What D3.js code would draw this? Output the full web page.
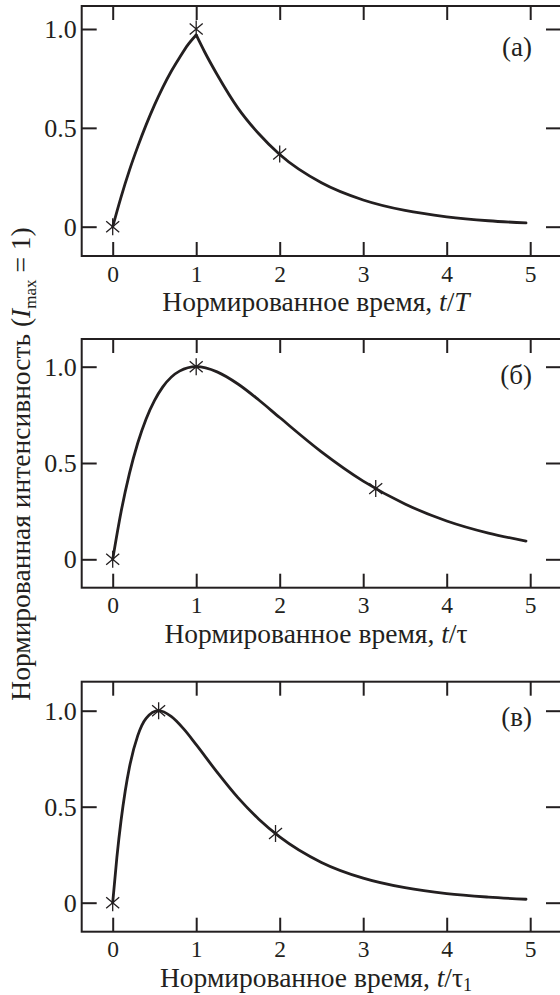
<!DOCTYPE html>
<html>
<head>
<meta charset="utf-8">
<script src="https://cdn.jsdelivr.net/npm/d3@7"></script>
<style>
  body { margin: 0; background: #fff; }
  svg { display: block; }
  text { font-family: "Liberation Serif", "DejaVu Serif", serif; fill: #231f20; }
</style>
</head>
<body>
<svg id="chart" width="560" height="995"></svg>
<script>
// values (normalized time, normalized intensity)
const tA = [0, 0.1, 0.2, 0.3, 0.4, 0.5, 0.6, 0.7, 0.8, 0.9, 1.0, 1.1, 1.25, 1.5, 1.75, 2.0, 2.5, 3.0, 3.5, 4.0, 4.5, 4.95]
const iA = [0, 0.15, 0.285, 0.405, 0.515, 0.615, 0.705, 0.785, 0.855, 0.92, 0.97, 0.885, 0.77, 0.60, 0.47, 0.365, 0.222, 0.135, 0.082, 0.05, 0.03, 0.019]
const markA = [[0, 0], [1, 1], [2, 0.368]]

const tB = [0, 0.1, 0.2, 0.3, 0.4, 0.5, 0.6, 0.8, 1.0, 1.25, 1.5, 1.75, 2.0, 2.5, 3.0, 3.5, 4.0, 4.5, 4.95]
const iB = [0, 0.246, 0.445, 0.604, 0.729, 0.824, 0.895, 0.977, 1.0, 0.973, 0.91, 0.827, 0.736, 0.558, 0.406, 0.287, 0.199, 0.136, 0.095]
const markB = [[0, 0], [1, 1], [3.15, 0.367]]

const tC = [0, 0.05, 0.1, 0.15, 0.2, 0.3, 0.4, 0.55, 0.7, 0.85, 1.0, 1.25, 1.5, 1.75, 2.0, 2.5, 3.0, 3.5, 4.0, 4.5, 4.95]
const iC = [0, 0.236, 0.428, 0.582, 0.704, 0.87, 0.96, 1.0, 0.97, 0.905, 0.823, 0.68, 0.547, 0.435, 0.343, 0.21, 0.128, 0.078, 0.047, 0.029, 0.018]
const markC = [[0, 0], [0.55, 1], [1.95, 0.36]]

const xTicks = [0, 1, 2, 3, 4, 5]
const yTicks = [0, 0.5, 1.0]
const panelLabels = ['(а)', '(б)', '(в)']

const INK = '#231f20'
const FRAME_L = 81.7, FRAME_R = 561

// frame top/bottom and where y=1 / y=0 sit, per panel
let panels = [
    { t: tA, v: iA, marks: markA, breakAt: 1, top: 6, bottom: 256, y1: 29, y0: 226.7, labelY: 56, unit: [{ s: 'T', it: true }] },
    { t: tB, v: iB, marks: markB, breakAt: null, top: 339, bottom: 587.7, y1: 366.7, y0: 559.3, labelY: 384, unit: [{ s: 'τ' }] },
    { t: tC, v: iC, marks: markC, breakAt: null, top: 681.7, bottom: 931.7, y1: 710.7, y0: 902.7, labelY: 726, unit: [{ s: 'τ' }, { s: '1', sub: true }] },
]

let svg = d3.select('#chart')
let x = d3.scaleLinear().domain([0, 5]).range([112.7, 530.2])

function asterisk(r) {
    let p = d3.path()
    p.moveTo(0, -r); p.lineTo(0, r)
    let a = 40 * Math.PI / 180
    let dx = r * Math.cos(a), dy = r * Math.sin(a)
    p.moveTo(-dx, -dy); p.lineTo(dx, dy)
    p.moveTo(-dx, dy); p.lineTo(dx, -dy)
    return p.toString()
}

panels.forEach((p, k) => {
    let y = d3.scaleLinear().domain([0, 1]).range([p.y0, p.y1])
    let g = svg.append('g')

    g.append('rect')
        .attr('x', FRAME_L).attr('y', p.top)
        .attr('width', FRAME_R - FRAME_L).attr('height', p.bottom - p.top)
        .attr('fill', 'none').attr('stroke', INK).attr('stroke-width', 2)

    let bottomAxis = g.append('g')
        .attr('transform', `translate(0,${p.bottom})`)
        .call(d3.axisBottom(x).tickValues(xTicks).tickSize(-14).tickSizeOuter(0).tickPadding(9)
            .tickFormat(d3.format('d')))
    let topAxis = g.append('g')
        .attr('transform', `translate(0,${p.top})`)
        .call(d3.axisTop(x).tickValues(xTicks).tickSize(-14).tickSizeOuter(0).tickFormat(''))
    let leftAxis = g.append('g')
        .attr('transform', `translate(${FRAME_L},0)`)
        .call(d3.axisLeft(y).tickValues(yTicks).tickSize(-15).tickSizeOuter(0).tickPadding(5)
            .tickFormat(d => d === 0 ? '0' : d.toFixed(1)))
    let rightAxis = g.append('g')
        .attr('transform', `translate(${FRAME_R},0)`)
        .call(d3.axisRight(y).tickValues(yTicks).tickSize(-15).tickSizeOuter(0).tickFormat(''))

    ;[bottomAxis, topAxis, leftAxis, rightAxis].forEach(a => {
        a.select('.domain').remove()
        a.selectAll('line').attr('stroke', INK).attr('stroke-width', 2)
        a.selectAll('text').attr('font-family', null).attr('fill', INK)
    })
    bottomAxis.selectAll('text').attr('font-size', 23.5)
    leftAxis.selectAll('text').attr('font-size', 26)

    // x title
    let title = g.append('text')
        .attr('x', 316).attr('y', p.bottom + 55)
        .attr('text-anchor', 'middle').attr('font-size', 27.5)
    title.append('tspan').text('Нормированное время, ')
    title.append('tspan').attr('font-style', 'italic').text('t')
    title.append('tspan').text('/')
    p.unit.forEach(u => {
        let ts = title.append('tspan').text(u.s)
        if (u.it) ts.attr('font-style', 'italic')
        if (u.sub) ts.attr('font-size', 18).attr('dy', 4)
    })

    g.append('text')
        .attr('x', 532).attr('y', p.labelY)
        .attr('text-anchor', 'end').attr('font-size', 27)
        .text(panelLabels[k])

    // curve, split at a kink if there is one
    let pts = p.t.map((t, i) => [t, p.v[i]])
    let segs = p.breakAt == null ? [pts]
        : [pts.filter(d => d[0] <= p.breakAt), pts.filter(d => d[0] >= p.breakAt)]
    let line = d3.line().x(d => x(d[0])).y(d => y(d[1])).curve(d3.curveMonotoneX)
    segs.forEach(s => {
        g.append('path')
            .attr('d', line(s))
            .attr('fill', 'none').attr('stroke', INK)
            .attr('stroke-width', 2.8).attr('stroke-linejoin', 'round').attr('stroke-linecap', 'round')
    })

    g.selectAll('path.mark')
        .data(p.marks)
        .join('path')
        .attr('class', 'mark')
        .attr('transform', d => `translate(${x(d[0])},${y(d[1])})`)
        .attr('d', asterisk(8.5))
        .attr('fill', 'none').attr('stroke', INK).attr('stroke-width', 1.3)
})

// shared y title
let ytitle = svg.append('text')
    .attr('transform', 'translate(30,464) rotate(-90)')
    .attr('text-anchor', 'middle').attr('font-size', 27.5)
ytitle.append('tspan').text('Нормированная интенсивность (')
ytitle.append('tspan').attr('font-style', 'italic').text('I')
ytitle.append('tspan').attr('font-size', 17).attr('dy', 6).text('max')
ytitle.append('tspan').attr('dy', -6).text(' = 1)')
</script>
</body>
</html>
